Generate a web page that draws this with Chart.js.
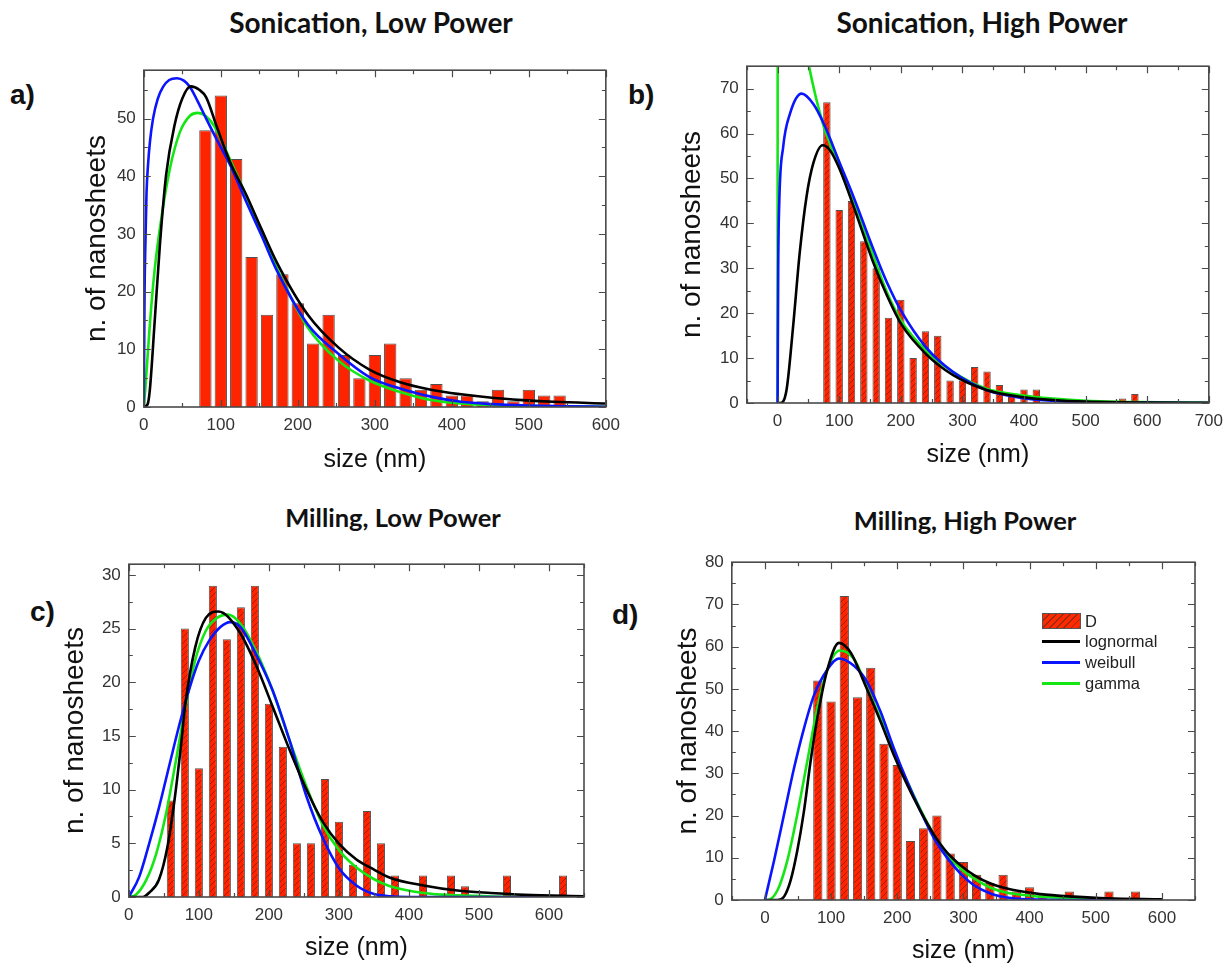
<!DOCTYPE html>
<html lang="en">
<head>
<meta charset="UTF-8">
<title>Nanosheet size distributions</title>
<style>
  body {
    margin: 0;
    width: 1229px;
    height: 966px;
    background: #ffffff;
    position: relative;
    overflow: hidden;
    font-family: "Liberation Sans", Arial, sans-serif;
    color: #111;
  }
  canvas { position: absolute; }
  .title {
    position: absolute;
    font-family: Lato, "Open Sans", sans-serif;
    font-weight: bold;
    font-size: 25.5px;
    line-height: 1;
    white-space: nowrap;
    transform: translate(-50%, -50%);
  }
  .title.big { font-size: 28px; }
  .letter {
    position: absolute;
    font-weight: bold;
    font-size: 28px;
    line-height: 1;
    transform: translateY(-50%);
  }
  .legend-item {
    position: absolute;
    font-size: 16.5px;
    line-height: 1;
    color: #222;
    transform: translateY(-50%);
  }
  .legend-line { position: absolute; height: 3px; width: 38px; }
  .legend-patch {
    position: absolute;
    width: 37px;
    height: 14px;
    border: 1px solid #555;
    background: repeating-linear-gradient(135deg, #ff2a00 0 4px, #9a2a10 4px 5px);
  }
</style>
</head>
<body>
  <div class="letter" style="left:10px; top:95px;">a)</div>
  <div class="letter" style="left:628px; top:95px;">b)</div>
  <div class="letter" style="left:30px; top:612px;">c)</div>
  <div class="letter" style="left:612px; top:615px;">d)</div>

  <div class="title big" style="left:371px; top:22px;">Sonication, Low Power</div>
  <div class="title big" style="left:982px; top:22px;">Sonication, High Power</div>
  <div class="title" style="left:393px; top:518px;">Milling, Low Power</div>
  <div class="title" style="left:965px; top:521px;">Milling, High Power</div>

  <canvas id="chartA"></canvas>
  <canvas id="chartB"></canvas>
  <canvas id="chartC"></canvas>
  <canvas id="chartD"></canvas>

  <!-- legend of panel d -->
  <div class="legend-patch" style="left:1042px; top:613px;"></div>
  <div class="legend-item" style="left:1085px; top:621px;">D</div>
  <div class="legend-line" style="left:1042px; top:640px; background:#000;"></div>
  <div class="legend-item" style="left:1085px; top:641px;">lognormal</div>
  <div class="legend-line" style="left:1042px; top:661px; background:#0a14ff;"></div>
  <div class="legend-item" style="left:1085px; top:662px;">weibull</div>
  <div class="legend-line" style="left:1042px; top:682px; background:#14e614;"></div>
  <div class="legend-item" style="left:1085px; top:683px;">gamma</div>

  <script src="https://cdn.jsdelivr.net/npm/chart.js"></script>
  <script>
    // ---------- a) sonication, low power ----------
    const aXTicks = [0, 100, 200, 300, 400, 500, 600];
    const aYTicks = [0, 10, 20, 30, 40, 50];
    const aBins   = [80, 100, 120, 140, 160, 180, 200, 220, 240, 260, 280, 300, 320, 340, 360, 380, 400, 420, 440, 460, 480, 500, 520, 540];
    const aCounts = [48, 54, 43, 26, 16, 23, 18, 11, 16, 9, 5, 9, 11, 5, 3, 4, 2, 2, 1, 3, 1, 3, 2, 2];
    const aLogX = [0, 5, 8, 14, 21, 29, 40, 50, 61, 72, 81, 95, 112, 133, 153, 173, 213, 253, 293, 333, 373, 412, 452, 492, 532, 600];
    const aLogY = [0, 0.5, 3.2, 14.6, 28.3, 40.3, 48.9, 53.5, 55.6, 55, 53.7, 48.5, 42.5, 36.8, 30.8, 25, 16, 10.3, 6.5, 4.3, 3.0, 2.2, 1.6, 1.2, 0.9, 0.6];
    const aWeiX = [0, 1, 2, 3.5, 5.5, 8, 12, 18, 25, 33, 43, 52, 60, 70, 81, 95, 112, 133, 153, 173, 213, 253, 293, 333, 373, 412, 452, 500, 550, 600];
    const aWeiY = [0, 20, 28, 37, 42, 46, 50, 53.4, 55.5, 56.7, 57, 56.6, 55.5, 53, 50, 46.3, 42, 35.6, 29.7, 23.6, 14.3, 9.2, 5.2, 3.2, 1.8, 0.9, 0.5, 0.25, 0.1, 0.05];
    const aGamX = [0, 2, 8, 14, 23, 34, 47, 60, 70, 80, 92, 112, 133, 153, 173, 213, 253, 293, 333, 373, 412, 452, 500, 600];
    const aGamY = [0, 3.2, 14.6, 23.7, 32.9, 41.4, 47.7, 50.5, 51, 50.5, 48.6, 42.9, 36.6, 30.3, 24, 13.8, 8, 4.6, 2.6, 1.2, 0.6, 0.3, 0.15, 0.03];

    // ---------- b) sonication, high power ----------
    const bXTicks = [0, 100, 200, 300, 400, 500, 600, 700];
    const bYTicks = [0, 10, 20, 30, 40, 50, 60, 70];
    const bBins   = [80, 100, 120, 140, 160, 180, 200, 220, 240, 260, 280, 300, 320, 340, 360, 380, 400, 420, 560, 580];
    const bCounts = [67, 43, 45, 36, 30, 19, 23, 10, 16, 15, 5, 5, 8, 7, 4, 2, 3, 3, 1, 2];
    const bLogX = [0, 4, 14.5, 25, 36, 47, 58, 73, 85, 101, 123, 155, 177, 201, 241, 285, 339, 393, 447, 501, 600, 700];
    const bLogY = [0, 0, 2.9, 16.8, 33.6, 46, 53.4, 57.4, 56.3, 52, 43.9, 31.4, 24.1, 17.5, 10.9, 6.2, 2.9, 1.4, 0.66, 0.3, 0.1, 0.04];
    const bWeiX = [0, 1, 2.7, 9, 20, 39, 58, 75, 101, 123, 155, 177, 201, 241, 285, 339, 393, 447, 501, 600, 700];
    const bWeiY = [0, 30, 44.6, 57, 64.4, 68.9, 66.6, 62.2, 53.4, 46, 34.4, 27, 20.4, 12.4, 6.9, 2.9, 1.2, 0.5, 0.15, 0.02, 0];
    const bGamX = [0, 0.5, 20, 40, 51, 75, 85, 123, 155, 177, 201, 241, 285, 339, 393, 447, 501, 582, 700];
    const bGamY = [0, 300, 110, 84, 75, 61.5, 57.8, 44.6, 32.9, 24.8, 18.2, 11.6, 6.9, 3.2, 1.8, 1.0, 0.5, 0.2, 0.07];

    // ---------- c) milling, low power ----------
    const cXTicks = [0, 100, 200, 300, 400, 500, 600];
    const cYTicks = [0, 5, 10, 15, 20, 25, 30];
    const cBins   = [60, 80, 100, 120, 140, 160, 180, 200, 220, 240, 260, 280, 300, 320, 340, 360, 380, 420, 460, 480, 540, 620];
    const cCounts = [9, 25, 12, 29, 24, 27, 29, 18, 14, 5, 5, 11, 7, 3, 8, 5, 2, 2, 2, 1, 2, 2];
    const cLogX = [0, 20, 29, 43, 55, 65, 74, 81, 95, 110, 128, 157, 181, 205, 229, 253, 277, 301, 325, 349, 373, 421, 469, 517, 565, 650];
    const cLogY = [0, 0, 0.4, 1.6, 4.6, 8.9, 13.8, 18.1, 23.3, 26, 26.6, 24.8, 21.7, 17.8, 13.8, 10.1, 7.0, 4.9, 3.5, 2.6, 1.8, 1.07, 0.6, 0.37, 0.2, 0.06];
    const cWeiX = [0, 15, 29, 43, 58, 72, 86, 100, 115, 130, 145, 160, 181, 205, 229, 253, 277, 301, 325, 349, 373, 400, 650];
    const cWeiY = [0, 1.9, 4.95, 8.3, 12.3, 16, 19.3, 22, 23.9, 25.1, 25.6, 25.1, 22.7, 19.3, 14.7, 9.5, 5.5, 2.6, 1.07, 0.3, 0.06, 0, 0];
    const cGamX = [0, 10, 25, 39, 53, 67, 81, 95, 110, 126, 142, 160, 181, 205, 229, 253, 277, 301, 325, 349, 373, 421, 469, 520, 650];
    const cGamY = [0, 0.2, 1.6, 4.0, 7.7, 12.6, 17.8, 22.1, 24.8, 26, 26.3, 25.4, 23, 19.3, 14.7, 10.4, 6.7, 4.3, 2.75, 1.7, 1.0, 0.37, 0.15, 0.05, 0];

    // ---------- d) milling, high power ----------
    const dXTicks = [0, 100, 200, 300, 400, 500, 600];
    const dYTicks = [0, 10, 20, 30, 40, 50, 60, 70, 80];
    const dBins   = [80, 100, 120, 140, 160, 180, 200, 220, 240, 260, 280, 300, 320, 340, 360, 380, 400, 420, 460, 520, 560];
    const dCounts = [52, 47, 72, 48, 55, 37, 32, 14, 17, 20, 11, 9, 6, 4, 6, 2, 3, 1, 2, 2, 2];
    const dLogX = [0, 19, 29, 39, 49, 59, 69, 79, 94.5, 112, 130, 150, 175, 195, 215, 235, 255, 275, 296, 316, 341, 366, 391, 416, 467, 517, 600];
    const dLogY = [0, 0, 0.8, 4.7, 11.7, 21, 32.8, 42.9, 54.6, 60.9, 58.5, 51.5, 42.2, 34.3, 27.3, 21.1, 15.6, 11.3, 8.2, 5.9, 3.9, 2.7, 1.95, 1.4, 0.8, 0.4, 0.15];
    const dWeiX = [0, 14, 29, 44, 59, 74, 94.5, 112, 135, 155, 175, 195, 215, 235, 255, 275, 296, 316, 341, 366, 401, 450, 600];
    const dWeiY = [0, 9.4, 20.3, 31.2, 40.6, 48.4, 54.6, 57.2, 55.4, 51.5, 44.5, 35.9, 28.1, 21.1, 14.8, 10.1, 6.2, 3.5, 1.56, 0.6, 0.15, 0, 0];
    const dGamX = [0, 4, 19, 34, 49, 64, 79, 94.5, 113, 135, 155, 175, 195, 215, 235, 255, 275, 296, 316, 341, 366, 391, 416, 467, 517, 600];
    const dGamY = [0, 0, 2.3, 9.4, 20.3, 32.8, 45.3, 54.6, 59.1, 57, 50, 42.9, 35.1, 28.1, 21.5, 15.6, 10.9, 7.4, 5.1, 2.9, 1.7, 1.2, 0.8, 0.4, 0.15, 0];

    const RED = '#ff2400';
    const BLACK = '#000000';
    const BLUE = '#0a14ff';
    const GREEN = '#14e614';
    const PAD_T = 14, PAD_R = 20;
    const Y_TITLE = 28, X_TITLE = 25;

    Chart.defaults.font.family = '"Liberation Sans", Arial, sans-serif';
    Chart.defaults.color = '#333';

    // red bars with thin dark diagonal lines
    function hatchPattern() {
      const c = document.createElement('canvas');
      c.width = 6; c.height = 6;
      const g = c.getContext('2d');
      g.fillStyle = RED;
      g.fillRect(0, 0, 6, 6);
      g.strokeStyle = 'rgba(120, 25, 0, 0.65)';
      g.lineWidth = 1;
      g.beginPath();
      g.moveTo(0, 6); g.lineTo(6, 0);
      g.moveTo(-1, 1); g.lineTo(1, -1);
      g.moveTo(5, 7); g.lineTo(7, 5);
      g.stroke();
      return g.createPattern(c, 'repeat');
    }

    // frame on all four sides with inward ticks (Origin style)
    const frameTicks = {
      id: 'frameTicks',
      afterDatasetsDraw(chart, args, o) {
        const {ctx, chartArea: a} = chart;
        const xs = chart.scales.x, ys = chart.scales.y;
        ctx.save();
        ctx.strokeStyle = '#4a4a4a';
        ctx.lineWidth = 1.2;
        ctx.beginPath();
        for (let v = Math.ceil(xs.min / o.xMinor) * o.xMinor; v <= xs.max + 1e-9; v += o.xMinor) {
          const px = Math.round(xs.getPixelForValue(v)) + 0.5;
          const len = Math.abs(v % o.xMajor) < 1e-6 ? 7 : 4;
          ctx.moveTo(px, a.bottom); ctx.lineTo(px, a.bottom - len);
          ctx.moveTo(px, a.top); ctx.lineTo(px, a.top + len);
        }
        for (let v = 0; v <= ys.max + 1e-9; v += o.yMinor) {
          const py = Math.round(ys.getPixelForValue(v)) + 0.5;
          const len = Math.abs(v % o.yMajor) < 1e-6 ? 7 : 4;
          ctx.moveTo(a.left, py); ctx.lineTo(a.left + len, py);
          ctx.moveTo(a.right, py); ctx.lineTo(a.right - len, py);
        }
        ctx.stroke();
        ctx.lineWidth = 1.6;
        ctx.strokeRect(a.left, a.top, a.right - a.left, a.bottom - a.top);
        ctx.restore();
      }
    };

    function pts(xs, ys) {
      return xs.map((x, i) => ({x: x, y: ys[i]}));
    }

    function fitLine(xs, ys, color, order) {
      return {
        type: 'line',
        data: pts(xs, ys),
        borderColor: color,
        borderWidth: 2.6,
        pointRadius: 0,
        fill: false,
        cubicInterpolationMode: 'monotone',
        order: order
      };
    }

    function makePanel(id, p) {
      const left = p.yTitleX - Y_TITLE * 0.6;
      const top = p.frame.t - PAD_T;
      const right = p.frame.r + PAD_R;
      const bottom = p.xTitleY + X_TITLE * 0.6;
      const yW = p.frame.l - left;
      const xH = bottom - p.frame.b;

      const canvas = document.getElementById(id);
      canvas.width = right - left;
      canvas.height = bottom - top;
      canvas.style.left = left + 'px';
      canvas.style.top = top + 'px';

      new Chart(canvas.getContext('2d'), {
        type: 'bar',
        data: {
          datasets: [
            fitLine(p.wei[0], p.wei[1], BLUE, 2),
            fitLine(p.gam[0], p.gam[1], GREEN, 3),
            fitLine(p.log[0], p.log[1], BLACK, 1),
            {
              type: 'bar',
              data: pts(p.bins, p.counts),
              backgroundColor: p.hatched ? hatchPattern() : RED,
              borderColor: '#505050',
              borderWidth: 1,
              categoryPercentage: 1,
              barPercentage: p.barFrac,
              order: 10
            }
          ]
        },
        options: {
          responsive: false,
          animation: false,
          devicePixelRatio: 1,
          layout: {padding: {top: PAD_T, right: PAD_R, left: 0, bottom: 0}},
          plugins: {
            legend: {display: false},
            tooltip: {enabled: false},
            frameTicks: p.ticks
          },
          scales: {
            x: {
              type: 'linear',
              min: p.xRange[0],
              max: p.xRange[1],
              offset: false,
              grid: {display: false, drawTicks: false},
              border: {display: false},
              ticks: {padding: 8, autoSkip: false, maxRotation: 0, color: '#333', font: {size: 17}},
              afterBuildTicks(s) { s.ticks = p.xTicks.map(v => ({value: v})); },
              title: {display: true, text: 'size (nm)', color: '#111', font: {size: X_TITLE}, padding: 0},
              afterFit(s) { s.height = xH; }
            },
            y: {
              min: 0,
              max: p.yMax,
              grid: {display: false, drawTicks: false},
              border: {display: false},
              ticks: {padding: 8, color: '#333', font: {size: 17}},
              afterBuildTicks(s) { s.ticks = p.yTicks.map(v => ({value: v})); },
              title: {display: true, text: 'n. of nanosheets', color: '#111', font: {size: Y_TITLE}, padding: 0},
              afterFit(s) { s.width = yW; }
            }
          }
        },
        plugins: [frameTicks]
      });
    }

    makePanel('chartA', {
      frame: {l: 144, t: 66, r: 609, b: 407}, yTitleX: 97, xTitleY: 460,
      xRange: [0, 600], yMax: 58.4, xTicks: aXTicks, yTicks: aYTicks,
      bins: aBins, counts: aCounts, hatched: false, barFrac: 0.8,
      log: [aLogX, aLogY], wei: [aWeiX, aWeiY], gam: [aGamX, aGamY],
      ticks: {xMajor: 100, xMinor: 50, yMajor: 10, yMinor: 5}
    });

    makePanel('chartB', {
      frame: {l: 747, t: 62, r: 1212, b: 403}, yTitleX: 692, xTitleY: 455,
      xRange: [-50, 700], yMax: 75, xTicks: bXTicks, yTicks: bYTicks,
      bins: bBins, counts: bCounts, hatched: true, barFrac: 0.6,
      log: [bLogX, bLogY], wei: [bWeiX, bWeiY], gam: [bGamX, bGamY],
      ticks: {xMajor: 100, xMinor: 50, yMajor: 10, yMinor: 5}
    });

    makePanel('chartC', {
      frame: {l: 129, t: 560, r: 585, b: 897}, yTitleX: 75, xTitleY: 948,
      xRange: [0, 650], yMax: 31, xTicks: cXTicks, yTicks: cYTicks,
      bins: cBins, counts: cCounts, hatched: true, barFrac: 0.58,
      log: [cLogX, cLogY], wei: [cWeiX, cWeiY], gam: [cGamX, cGamY],
      ticks: {xMajor: 100, xMinor: 50, yMajor: 5, yMinor: 2.5}
    });

    makePanel('chartD', {
      frame: {l: 732, t: 558, r: 1196, b: 900}, yTitleX: 688, xTitleY: 951,
      xRange: [-50, 650], yMax: 80, xTicks: dXTicks, yTicks: dYTicks,
      bins: dBins, counts: dCounts, hatched: true, barFrac: 0.7,
      log: [dLogX, dLogY], wei: [dWeiX, dWeiY], gam: [dGamX, dGamY],
      ticks: {xMajor: 100, xMinor: 50, yMajor: 10, yMinor: 5}
    });
  </script>
</body>
</html>
